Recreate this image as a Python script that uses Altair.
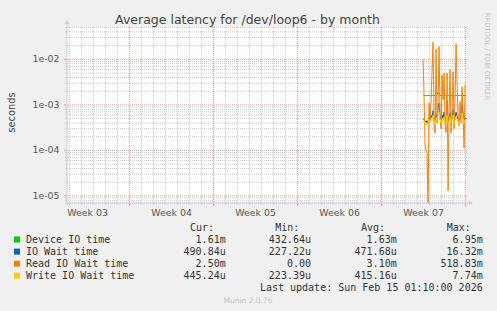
import altair as alt
import pandas as pd

# ------------------------------------------------------------------ data
series_names = ["Device IO time", "IO Wait time", "Read IO Wait time", "Write IO Wait time"]
series_colors = ["#00CC00", "#0066B3", "#FF8000", "#FFCC00"]

device_io_time = [
    1.65e-3, 1.60e-3, 1.62e-3, 1.58e-3, 1.60e-3, 1.63e-3, 1.60e-3, 1.57e-3, 1.62e-3, 1.60e-3,
    1.65e-3, 1.60e-3, 1.62e-3, 1.60e-3, 1.70e-3, 1.90e-3, 1.75e-3, 1.60e-3, 1.62e-3, 1.58e-3,
    1.60e-3, 1.63e-3, 1.60e-3, 1.60e-3, 1.62e-3, 1.60e-3, 1.58e-3, 1.60e-3, 1.63e-3, 1.60e-3,
    1.62e-3, 1.60e-3, 1.58e-3, 1.60e-3, 1.65e-3, 1.60e-3, 1.62e-3, 1.60e-3, 1.60e-3, 1.63e-3,
    1.60e-3, 1.62e-3, 1.60e-3, 1.61e-3,
]
io_wait_time = [
    4.8e-4, 5.0e-4, 4.2e-4, 4.5e-4, 4.0e-4, 4.6e-4, 5.5e-4, 4.8e-4, 6.0e-4, 5.2e-4,
    7.5e-4, 4.9e-4, 4.4e-4, 6.5e-4, 5.0e-4, 9.0e-4, 1.1e-3, 5.5e-4, 4.6e-4, 6.0e-4,
    5.0e-4, 7.0e-4, 4.5e-4, 4.8e-4, 1.2e-3, 4.2e-4, 5.2e-4, 6.8e-4, 4.7e-4, 5.0e-4,
    8.0e-4, 4.6e-4, 5.3e-4, 7.0e-4, 5.6e-4, 4.8e-4, 4.4e-4, 5.5e-4, 4.9e-4, 1.0e-3,
    6.0e-4, 4.5e-4, 5.2e-4, 4.9e-4,
]
read_io_wait_time = [
    1.0e-2, 1.5e-3, 1.2e-4, 1.0e-4, 9.0e-5, 5.0e-6, 1.1e-3, 4.5e-4, 1.2e-3, 6.0e-3,
    2.4e-2, 3.5e-4, 2.4e-4, 1.7e-2, 4.0e-4, 1.2e-3, 1.9e-2, 5.0e-4, 3.0e-4, 4.5e-3,
    1.3e-3, 5.0e-3, 3.5e-4, 2.5e-4, 5.0e-3, 1.3e-5, 6.0e-4, 6.0e-3, 2.4e-4, 8.0e-4,
    5.3e-3, 3.0e-4, 1.5e-3, 2.2e-2, 3.0e-3, 6.0e-4, 3.5e-4, 1.2e-3, 4.0e-4, 2.5e-3,
    6.0e-4, 1.1e-4, 2.7e-3, 2.5e-3,
]
write_io_wait_time = [
    4.2e-4, 4.5e-4, 3.8e-4, 4.0e-4, 3.6e-4, 4.1e-4, 4.8e-4, 4.2e-4, 5.0e-4, 4.5e-4,
    6.0e-4, 4.3e-4, 3.9e-4, 5.2e-4, 4.4e-4, 6.5e-4, 7.0e-4, 4.6e-4, 4.0e-4, 5.0e-4,
    4.3e-4, 5.5e-4, 3.9e-4, 4.2e-4, 6.0e-4, 3.7e-4, 4.5e-4, 5.5e-4, 4.1e-4, 4.3e-4,
    6.0e-4, 4.0e-4, 4.6e-4, 5.5e-4, 4.8e-4, 4.2e-4, 3.8e-4, 4.7e-4, 4.3e-4, 6.5e-4,
    5.0e-4, 3.9e-4, 4.6e-4, 4.45e-4,
]
series_values = [device_io_time, io_wait_time, read_io_wait_time, write_io_wait_time]

legend_headers = ["Cur:", "Min:", "Avg:", "Max:"]
cur_values = ["1.61m", "490.84u", "2.50m", "445.24u"]
min_values = ["432.64u", "227.22u", "0.00\u00a0", "223.39u"]
avg_values = ["1.63m", "471.68u", "3.10m", "415.16u"]
max_values = ["6.95m", "16.32m", "518.83m", "7.74m"]

week_label_times = ["2026-01-14T12:00:00Z", "2026-01-21T12:00:00Z", "2026-01-28T12:00:00Z",
                    "2026-02-04T12:00:00Z", "2026-02-11T12:00:00Z"]
week_labels = ["Week 03", "Week 04", "Week 05", "Week 06", "Week 07"]
week_grid_times = ["2026-01-18T00:00:00Z", "2026-01-25T00:00:00Z", "2026-02-01T00:00:00Z",
                   "2026-02-08T00:00:00Z", "2026-02-15T00:00:00Z"]
y_tick_values = [1e-5, 1e-4, 1e-3, 1e-2]
y_tick_labels = ["1e-05", "1e-04", "1e-03", "1e-02"]

title_text = "Average latency for /dev/loop6 - by month"
y_title_text = "seconds"
last_update_text = "Last update: Sun Feb 15 01:10:00 2026"
footer_text = "Munin 2.0.76"
watermark_text = "RRDTOOL / TOBI OETIKER"

T_START = "2026-01-12T18:50:00Z"
T_END = "2026-02-15T02:50:00Z"
LAST_SAMPLE = "2026-02-15T01:00:00Z"
Y_MIN, Y_MAX = 7.0e-6, 0.0514

# ------------------------------------------------------------------ layout
W, H = 400, 176
PAD_L, PAD_T = 67, 27
BG = "#F0F0F0"
AXIS_COLOR = "#C5C9EA"
MINOR_GRID = "#CACACA"
MAJOR_GRID = "#E49A9A"
TEXT_COLOR = "#333333"
TICK_TEXT = "#555555"


def ms(s):
    return int(pd.Timestamp(s).value // 10**6)


def rx(px):
    return px - PAD_L


def ry(py):
    return py - PAD_T


xscale = alt.Scale(type="utc", domain=[ms(T_START), ms(T_END)])
yscale = alt.Scale(type="log", domain=[Y_MIN, Y_MAX], nice=False)


def X(field="t"):
    return alt.X(f"{field}:T", scale=xscale, axis=None)


def Y(field="v"):
    return alt.Y(f"{field}:Q", scale=yscale, axis=None)


# grid positions
day_times = pd.date_range(start="2026-01-13", end="2026-02-15", freq="D", tz="UTC")
minor_x = pd.DataFrame({"t": [int(t.value // 10**6) for t in day_times]})
major_x = pd.DataFrame({"t": [ms(t) for t in week_grid_times]})
minor_y_vals = []
for e in range(-6, -1):
    for m in range(2, 10):
        v = m * 10.0 ** e
        if Y_MIN <= v <= Y_MAX:
            minor_y_vals.append(v)
minor_y = pd.DataFrame({"v": minor_y_vals})
major_y = pd.DataFrame({"v": y_tick_values})

layers = []
dash = [1, 1]
layers.append(alt.Chart(minor_x).mark_rule(color=MINOR_GRID, strokeDash=dash, strokeWidth=1).encode(x=X()))
layers.append(alt.Chart(minor_y).mark_rule(color=MINOR_GRID, strokeDash=dash, strokeWidth=1).encode(y=Y()))
layers.append(alt.Chart(major_x).mark_rule(color=MAJOR_GRID, strokeDash=dash, strokeWidth=1).encode(x=X()))
layers.append(alt.Chart(major_y).mark_rule(color=MAJOR_GRID, strokeDash=dash, strokeWidth=1).encode(y=Y()))

# small ticks outside axes
layers.append(alt.Chart(minor_x).mark_rule(color=MINOR_GRID).encode(x=X(), y=alt.value(H), y2=alt.value(H + 2)))
layers.append(alt.Chart(major_x).mark_rule(color=MAJOR_GRID).encode(x=X(), y=alt.value(H), y2=alt.value(H + 3)))
layers.append(alt.Chart(minor_y).mark_rule(color=MINOR_GRID).encode(y=Y(), x=alt.value(-2), x2=alt.value(0)))
layers.append(alt.Chart(major_y).mark_rule(color=MAJOR_GRID).encode(y=Y(), x=alt.value(-3), x2=alt.value(0)))

# data lines
times = pd.date_range(end=pd.Timestamp(LAST_SAMPLE), periods=len(device_io_time), freq="2h")
for name, color, vals in zip(series_names, series_colors, series_values):
    df = pd.DataFrame({
        "t": [int(t.value // 10**6) for t in times[-len(vals):]],
        "v": vals,
        "series": name,
    })
    layers.append(
        alt.Chart(df).mark_line(color=color, strokeWidth=1, clip=True).encode(x=X(), y=Y())
    )

# axis lines + arrows
layers.append(alt.Chart(pd.DataFrame({"a": [0]})).mark_rule(color=AXIS_COLOR, strokeWidth=1).encode(
    x=alt.value(0), y=alt.value(-4), y2=alt.value(H + 2)))
layers.append(alt.Chart(pd.DataFrame({"a": [0]})).mark_rule(color=AXIS_COLOR, strokeWidth=1).encode(
    y=alt.value(H), x=alt.value(-2), x2=alt.value(W + 3)))
layers.append(alt.Chart(pd.DataFrame({"a": [0]})).mark_point(
    shape="triangle-up", filled=True, color=AXIS_COLOR, size=22, opacity=1).encode(
    x=alt.value(0), y=alt.value(-5)))
layers.append(alt.Chart(pd.DataFrame({"a": [0]})).mark_point(
    shape="triangle-right", filled=True, color=AXIS_COLOR, size=22, opacity=1).encode(
    x=alt.value(W + 4), y=alt.value(H)))

# tick labels
wk = pd.DataFrame({"t": [ms(t) for t in week_label_times], "label": week_labels})
layers.append(alt.Chart(wk).mark_text(font="DejaVu Sans", fontSize=9.4, color=TICK_TEXT,
                                      align="center", baseline="middle").encode(
    x=X(), y=alt.value(ry(212.5)), text="label:N"))
yl = pd.DataFrame({"v": y_tick_values, "label": y_tick_labels})
layers.append(alt.Chart(yl).mark_text(font="DejaVu Sans", fontSize=9.4, color=TICK_TEXT,
                                      align="right", baseline="middle").encode(
    y=Y(), x=alt.value(rx(59.5)), text="label:N"))

# titles
one = lambda s: pd.DataFrame({"label": [s]})
layers.append(alt.Chart(one(title_text)).mark_text(
    font="DejaVu Sans", fontSize=12.5, color="#444444", align="center", baseline="middle").encode(
    x=alt.value(rx(247.5)), y=alt.value(ry(19.5)), text="label:N"))
layers.append(alt.Chart(one(y_title_text)).mark_text(
    font="DejaVu Sans", fontSize=9.8, color="#444444", align="center", baseline="middle", angle=270).encode(
    x=alt.value(rx(11.5)), y=alt.value(ry(112.5)), text="label:N"))
layers.append(alt.Chart(one(watermark_text)).mark_text(
    font="DejaVu Sans", fontSize=6.8, color="#C4C4C4", align="center", baseline="middle", angle=90).encode(
    x=alt.value(rx(487)), y=alt.value(ry(56.5)), text="label:N"))
layers.append(alt.Chart(one(footer_text)).mark_text(
    font="DejaVu Sans", fontSize=7.5, color="#C4C4C4", align="center", baseline="middle").encode(
    x=alt.value(rx(248)), y=alt.value(ry(300.5)), text="label:N"))

# legend
ROW0, ROW_STEP, HEAD_Y = 239.5, 12.1, 227.5
header_x = [190, 275.3, 361, 446.7]
value_right_x = [225.7, 311, 396.7, 482.7]

left_rows, right_rows, squares = [], [], []
for hx, h in zip(header_x, legend_headers):
    left_rows.append({"text": h, "px": rx(hx), "py": ry(HEAD_Y)})
for i, name in enumerate(series_names):
    py = ry(ROW0 + ROW_STEP * i)
    left_rows.append({"text": name, "px": rx(26), "py": py})
    squares.append({"c": series_colors[i], "px": rx(17), "py": py})
    for col, vals in enumerate([cur_values, min_values, avg_values, max_values]):
        right_rows.append({"text": vals[i], "px": rx(value_right_x[col]), "py": py})
right_rows.append({"text": last_update_text, "px": rx(482.7), "py": ry(ROW0 + ROW_STEP * 4)})

LX = alt.X("px:Q", scale=None, axis=None)
LY = alt.Y("py:Q", scale=None, axis=None)
layers.append(alt.Chart(pd.DataFrame(squares)).mark_square(size=36, opacity=1, filled=True).encode(
    x=LX, y=LY, color=alt.Color("c:N", scale=None, legend=None)))
layers.append(alt.Chart(pd.DataFrame(left_rows)).mark_text(
    font="DejaVu Sans Mono", fontSize=10, color=TEXT_COLOR, align="left", baseline="middle").encode(
    x=LX, y=LY, text="text:N"))
layers.append(alt.Chart(pd.DataFrame(right_rows)).mark_text(
    font="DejaVu Sans Mono", fontSize=10, color=TEXT_COLOR, align="right", baseline="middle").encode(
    x=LX, y=LY, text="text:N"))

chart = alt.layer(*layers).properties(
    width=W,
    height=H,
    background=BG,
    padding={"left": PAD_L, "top": PAD_T, "right": 497 - PAD_L - W, "bottom": 311 - PAD_T - H},
    autosize=alt.AutoSizeParams(type="none"),
).configure_view(fill="white", stroke=None)

chart.save("out.html", embed_options={"renderer": "svg", "actions": False})
